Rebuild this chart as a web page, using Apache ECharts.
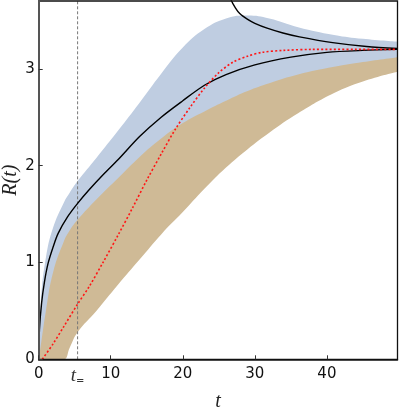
<!DOCTYPE html>
<html>
<head>
<meta charset="utf-8">
<style>
  html, body { margin: 0; padding: 0; background: #fff; }
  #chart { width: 399px; height: 414px; }
</style>
<script src="https://cdn.jsdelivr.net/npm/echarts@6/dist/echarts.min.js"></script>
</head>
<body>
<div id="chart"></div>
<script>
// ---- data ----
const T_BAND  = [0, 0.3, 1, 2, 3.5, 4.3, 5.4, 8, 11, 14, 17, 20, 23, 26, 29, 32, 36, 41, 45, 49.8];
const BLUE_HI = [0, 0.6, 1.05, 1.36, 1.62, 1.72, 1.84, 2.08, 2.36, 2.65, 2.95, 3.22, 3.41, 3.52, 3.55, 3.52, 3.43, 3.35, 3.31, 3.28];
const TAN_HI  = [0, 0.15, 0.5, 0.9, 1.22, 1.33, 1.44, 1.65, 1.87, 2.09, 2.28, 2.44, 2.56, 2.67, 2.77, 2.85, 2.94, 3.02, 3.07, 3.12];
const TAN_LO  = [0, 0, 0, 0, 0, 0.12, 0.28, 0.5, 0.77, 1.03, 1.29, 1.52, 1.76, 1.98, 2.17, 2.34, 2.54, 2.75, 2.87, 2.97];

const T_BLACK = [0, 0.1, 0.4, 0.8, 1.3, 2, 2.7, 4, 5.4, 7, 9, 11, 14, 17, 20, 23, 26, 30, 35, 40, 45, 49.8];
const R_BLACK = [0, 0.3, 0.58, 0.8, 0.99, 1.16, 1.3, 1.47, 1.61, 1.75, 1.91, 2.06, 2.3, 2.5, 2.67, 2.83, 2.94, 3.04, 3.12, 3.17, 3.19, 3.2];

const T_UPPER = [26.2, 26.7, 27.3, 27.9, 29, 30, 31.7, 33.9, 36.2, 40.8, 45.5, 49.8];
const R_UPPER = [3.83, 3.71, 3.63, 3.57, 3.51, 3.47, 3.42, 3.37, 3.33, 3.27, 3.23, 3.21];

const T_RED = [0.5, 2, 3.5, 5.4, 7, 9, 11, 13, 15, 17, 19, 21, 23, 25, 27, 29, 31, 34, 38, 44, 49.8];
const R_RED = [0, 0.16, 0.34, 0.57, 0.75, 1.01, 1.28, 1.56, 1.85, 2.12, 2.38, 2.6, 2.8, 2.96, 3.07, 3.13, 3.17, 3.19, 3.2, 3.2, 3.2];

const T_EQ = 5.4;
const X_LABELS = [0, T_EQ, 10, 20, 30, 40];
const X_TICKS = [0, 10, 20, 30, 40];
const Y_TICKS = [0, 1, 2, 3];

const zip = (xs, ys) => xs.map((x, i) => [x, ys[i]]);

const chart = echarts.init(document.getElementById('chart'));
const labelFont = { fontFamily: 'DejaVu Sans', fontSize: 15, color: '#111' };

const area = (ys, color) => ({
  type: 'line', data: zip(T_BAND, ys), symbol: 'none', smooth: 0.45, silent: true, z: 1,
  lineStyle: { width: 0 }, areaStyle: { color: color, opacity: 1, origin: 'start' }
});

chart.setOption({
  animation: false,
  grid: {
    left: 38.7, right: 1.5, top: 1, bottom: 54.7, containLabel: false, outerBoundsMode: 'none',
    show: true, borderColor: '#111', borderWidth: 1.3, backgroundColor: 'transparent', z: 6
  },
  xAxis: {
    type: 'value', min: 0, max: 49.8, z: 7,
    name: 't', nameLocation: 'middle', nameGap: 32, nameMoveOverlap: false,
    nameTextStyle: { fontFamily: 'Liberation Serif', fontStyle: 'italic', fontSize: 20, color: '#222' },
    axisLine: { show: true, lineStyle: { color: '#111', width: 1.5 } },
    axisTick: { show: true, inside: true, length: 4, customValues: X_TICKS, lineStyle: { color: '#333' } },
    splitLine: { show: false },
    axisLabel: {
      ...labelFont, margin: 7, customValues: X_LABELS,
      formatter: v => (Math.abs(v - T_EQ) < 1e-6 ? '{i|t}{s|=}' : String(v)),
      rich: {
        i: { fontFamily: 'Liberation Serif', fontStyle: 'italic', fontSize: 19, color: '#333' },
        s: { fontFamily: 'DejaVu Sans', fontSize: 10, color: '#333', padding: [10, 0, 0, 0] }
      }
    }
  },
  yAxis: {
    type: 'value', min: 0, max: 3.7, z: 7,
    name: 'R(t)', nameLocation: 'middle', nameGap: 18, nameRotate: 90, nameMoveOverlap: false,
    nameTextStyle: { fontFamily: 'Liberation Serif', fontStyle: 'italic', fontSize: 20, color: '#222' },
    axisLine: { show: true, lineStyle: { color: '#555', width: 2 } },
    axisTick: { show: true, inside: true, length: 4, customValues: Y_TICKS, lineStyle: { color: '#333' } },
    splitLine: { show: false },
    axisLabel: { ...labelFont, margin: 4, customValues: Y_TICKS }
  },
  series: [
    area(BLUE_HI, '#bfcde1'),
    area(TAN_HI, '#cfba96'),
    area(TAN_LO, '#ffffff'),
    { type: 'line', z: 3, data: [[T_EQ, 0], [T_EQ, 3.7]], symbol: 'none', lineStyle: { color: '#777', width: 1, type: [3, 2] } },
    { type: 'line', z: 4, data: zip(T_BLACK, R_BLACK), symbol: 'none', smooth: 0.3, lineStyle: { color: '#000', width: 1.4 } },
    { type: 'line', z: 4, data: zip(T_UPPER, R_UPPER), symbol: 'none', smooth: 0.3, lineStyle: { color: '#000', width: 1.4 } },
    { type: 'line', z: 5, data: zip(T_RED, R_RED), symbol: 'none', smooth: 0.3, lineStyle: { color: '#ff1515', width: 1.6, type: [2, 2.2] } }
  ]
});
</script>
</body>
</html>
